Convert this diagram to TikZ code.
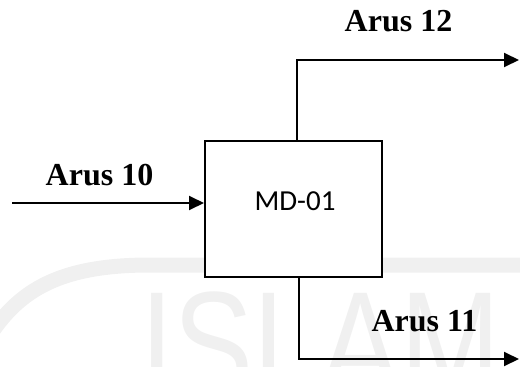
\documentclass[tikz,border=0pt]{standalone}
\usepackage{fontspec}
\setmainfont{Liberation Serif}
\newfontfamily\calfont{Carlito}
\newfontfamily\wmfont{Liberation Sans}
\usetikzlibrary{arrows.meta}
\begin{document}
\begin{tikzpicture}[x=1pt,y=-1pt]
      \tikzstyle{pipe}=[line width=2pt]
      \tikzstyle{flow}=[pipe,-{Triangle[length=15pt,width=14pt]}]
      \tikzstyle{stream}=[font=\fontsize{32}{36}\selectfont\bfseries,inner sep=0pt]
      \tikzstyle{unit}=[draw,line width=2pt,fill=white,minimum width=177pt,
                            minimum height=136pt,inner sep=0pt]
      \useasboundingbox (0,0) rectangle (520,367);
      \clip (0,0) rectangle (520,367);
      % faint background mark
      \draw[gray!12,line width=15pt] (530,265) -- (150,265)
      .. controls (60,265) and (20,290) .. (-10,335);
      \node (wm) at (140,292) [anchor=north west,text=gray!12,inner sep=0pt,
            font=\fontsize{150}{150}\selectfont\wmfont,transform shape,xscale=0.8] {ISLAM};

      \node (md) at (293.5,209) [unit] {};
      \node (md_txt) at (295,201.5) [font=\fontsize{29}{32}\selectfont\calfont,inner sep=0pt] {MD-01};

      \coordinate (in10) at (12,203);
      \coordinate (up12) at (297,60);
      \coordinate (out12) at (519,60);
      \coordinate (dn11) at (299,359);
      \coordinate (out11) at (519,359);

      \draw[flow] (in10) -- (in10 -| md.west);
      \draw[flow] (up12 |- md.north) -- (up12) -- (out12);
      \draw[flow] (dn11 |- md.south) -- (dn11) -- (out11);

      \node (a10) at (99.5,175.5) [stream] {Arus 10};
      \node (a12) at (398.5,21.5) [stream] {Arus 12};
      \node (a11) at (424.5,321.5) [stream] {Arus 11};
\end{tikzpicture}
\end{document}
